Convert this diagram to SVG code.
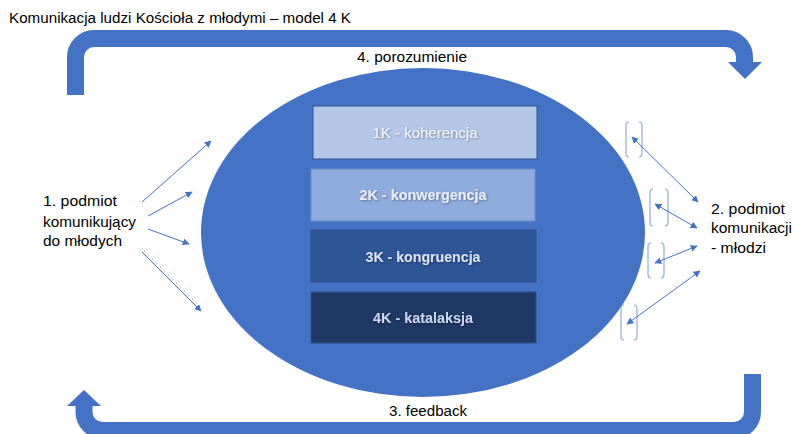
<svg xmlns="http://www.w3.org/2000/svg" width="793" height="434" viewBox="0 0 793 434">
<style>
.t{font-family:"Liberation Sans","Open Sans",Arial,sans-serif;fill:#000;font-size:14px}
.bx{font-family:"Liberation Sans","Open Sans",Arial,sans-serif;font-size:14px;text-anchor:middle}
.loop{fill:none;stroke:#4472C4;stroke-width:17}
.head{fill:#4472C4}
.con{stroke:#4472C4;stroke-width:1;fill:none}
.br{stroke:#8FAADC;stroke-width:1.2;fill:none}
</style>
<defs>
<marker id="ah" viewBox="0 0 10 10" refX="9" refY="5" markerWidth="7" markerHeight="7" markerUnits="userSpaceOnUse" orient="auto-start-reverse">
<path d="M0,0 L10,5 L0,10 z" fill="#4472C4"/>
</marker>
<filter id="sh" x="-10%" y="-30%" width="120%" height="160%">
<feDropShadow dx="1" dy="1" stdDeviation="0.8" flood-color="#000" flood-opacity="0.35"/>
</filter>
</defs>
<rect width="793" height="434" fill="#fff"/>
<g id="title"><text class="t" x="9" y="23" font-size="15" textLength="342" lengthAdjust="spacingAndGlyphs">Komunikacja ludzi Kościoła z młodymi – model 4 K</text></g>
<g id="loop-top">
<path class="loop" d="M75.5,95 V57 A18.5,18.5 0 0 1 94,38.5 H726 A18.5,18.5 0 0 1 744.5,57 V63"/>
<polygon class="head" points="728,62 762,62 745,79"/>
<text class="t" x="357" y="62" font-size="15" textLength="110" lengthAdjust="spacingAndGlyphs">4. porozumienie</text>
</g>
<g id="loop-bottom">
<path class="loop" d="M752.5,374 V412 A18.5,18.5 0 0 1 734,430.5 H102.5 A18.5,18.5 0 0 1 84,412 V405"/>
<polygon class="head" points="67,406 101,406 84,390"/>
<text class="t" x="389" y="416" font-size="15" textLength="78" lengthAdjust="spacingAndGlyphs">3. feedback</text>
</g>
<g id="ellipse"><ellipse cx="423" cy="232.5" rx="222" ry="164.5" fill="#4472C4"/></g>
<g id="k1"><rect x="313" y="106" width="224" height="53" fill="#B4C7E7" stroke="#2F5597" stroke-width="1"/><text class="bx" x="425" y="138" fill="#F2F5FB" filter="url(#sh)" font-size="15" textLength="105" lengthAdjust="spacingAndGlyphs">1K - koherencja</text></g>
<g id="k2"><rect x="311" y="169" width="224" height="52" fill="#8FAADC" stroke="#6E8FCB" stroke-width="1"/><text class="bx" x="423" y="200" fill="#E8EEF8" font-weight="bold" filter="url(#sh)" font-size="15" textLength="127" lengthAdjust="spacingAndGlyphs">2K - konwergencja</text></g>
<g id="k3"><rect x="311" y="230" width="225" height="52" fill="#2F5597" stroke="#2F528F" stroke-width="1"/><text class="bx" x="423" y="262" fill="#DAE3F3" font-weight="bold" filter="url(#sh)" font-size="15" textLength="115" lengthAdjust="spacingAndGlyphs">3K - kongruencja</text></g>
<g id="k4"><rect x="311" y="292" width="225" height="51" fill="#203864" stroke="#2F528F" stroke-width="1"/><text class="bx" x="423" y="323" fill="#C9D6EE" font-weight="bold" filter="url(#sh)" font-size="15" textLength="100" lengthAdjust="spacingAndGlyphs">4K - katalaksja</text></g>
<g id="sender"><text class="t" font-size="16"><tspan x="43" y="206" textLength="74" lengthAdjust="spacingAndGlyphs">1. podmiot</tspan><tspan x="43" y="227" textLength="93" lengthAdjust="spacingAndGlyphs">komunikujący</tspan><tspan x="43" y="246" textLength="79" lengthAdjust="spacingAndGlyphs">do młodych</tspan></text></g>
<g id="receiver"><text class="t" font-size="16"><tspan x="711" y="214" textLength="74" lengthAdjust="spacingAndGlyphs">2. podmiot</tspan><tspan x="711" y="233" textLength="81" lengthAdjust="spacingAndGlyphs">komunikacji</tspan><tspan x="711" y="253" textLength="55" lengthAdjust="spacingAndGlyphs">- młodzi</tspan></text></g>
<g id="brackets">
<path class="br" d="M629,122 Q626,122 626,126 V153 Q626,157 629,157 M639,122 Q642,122 642,126 V153 Q642,157 639,157"/>
<path class="br" d="M653,189 Q650,189 650,193 V222 Q650,226 653,226 M665,189 Q668,189 668,193 V222 Q668,226 665,226"/>
<path class="br" d="M651,243 Q648,243 648,247 V274 Q648,278 651,278 M661,243 Q664,243 664,247 V274 Q664,278 661,278"/>
<path class="br" d="M624,305 Q621,305 621,309 V336 Q621,340 624,340 M634,305 Q637,305 637,309 V336 Q637,340 634,340"/>
</g>
<g id="connectors">
<line class="con" x1="142" y1="202" x2="211" y2="141" marker-end="url(#ah)"/>
<line class="con" x1="148" y1="216" x2="192" y2="192" marker-end="url(#ah)"/>
<line class="con" x1="148" y1="229" x2="189" y2="244" marker-end="url(#ah)"/>
<line class="con" x1="142" y1="252" x2="201" y2="311" marker-end="url(#ah)"/>
<line class="con" x1="632" y1="137" x2="698" y2="202" marker-start="url(#ah)" marker-end="url(#ah)"/>
<line class="con" x1="655" y1="204" x2="697" y2="228" marker-start="url(#ah)" marker-end="url(#ah)"/>
<line class="con" x1="655" y1="263" x2="697" y2="246" marker-start="url(#ah)" marker-end="url(#ah)"/>
<line class="con" x1="627" y1="324" x2="700" y2="271" marker-start="url(#ah)" marker-end="url(#ah)"/>
</g>
</svg>
